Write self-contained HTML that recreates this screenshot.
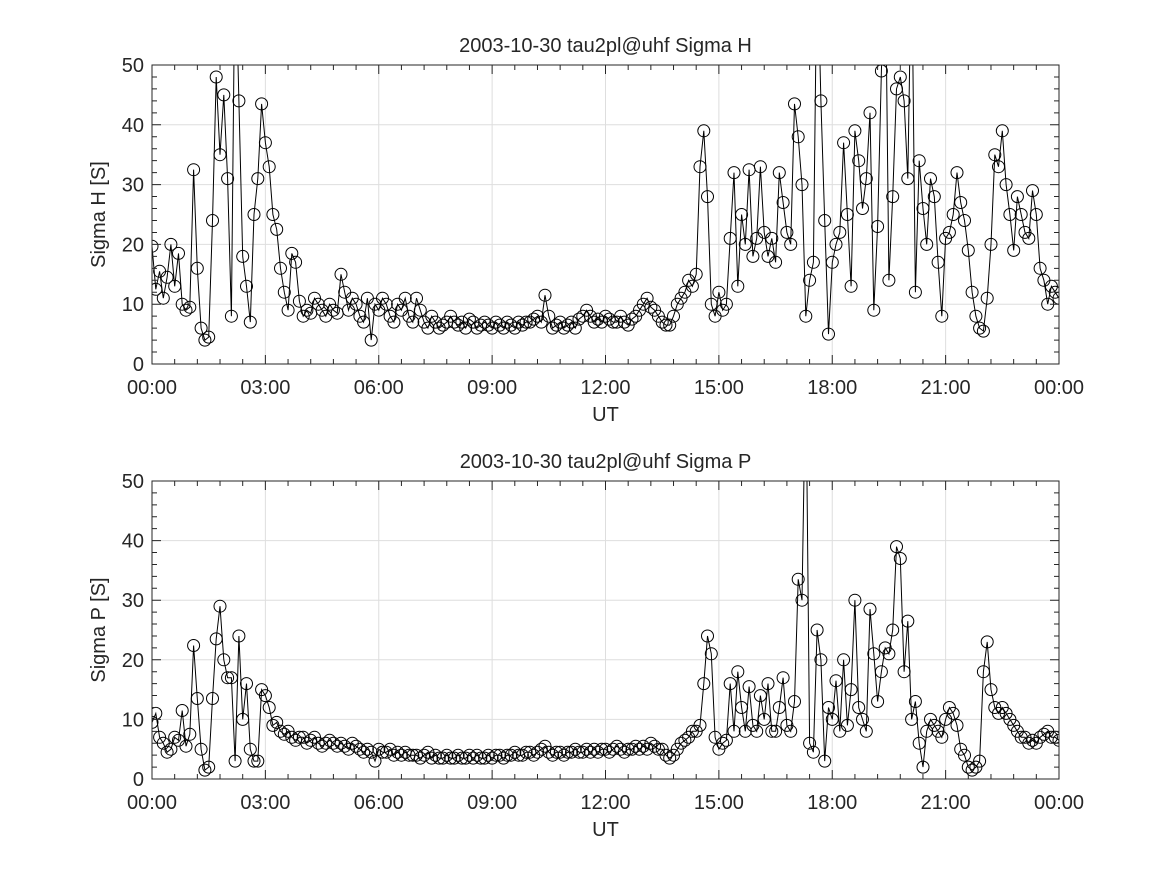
<!DOCTYPE html>
<html><head><meta charset="utf-8"><style>
body{margin:0;background:#fff;}
svg text{font-family:"Liberation Sans","DejaVu Sans",sans-serif;fill:#262626;}
</style></head><body>
<svg id="fig" width="1167" height="875" xmlns="http://www.w3.org/2000/svg"></svg>
<script>
// Sigma H values, one per 0.1 h from 00:00 to 24:00
const sigmaH = [
19.7,12.5,15.5,11,14.5,20,13,18.5,10,9,
9.5,32.5,16,6,4,4.5,24,48,35,45,
31,8,70,44,18,13,7,25,31,43.5,
37,33,25,22.5,16,12,9,18.5,17,10.5,
8,9,8.5,11,10,9,8,10,9,8.5,
15,12,9,11,10,8,7,11,4,10,
9,11,10,8,7,10,9,11,8,7,
11,9,7,6,8,7,6,6.5,7,8,
7,6.5,7,6,7.5,7,6,6.5,7,6.5,
6,7,6.5,6,7,6.5,6,7,6.5,7,
7,7.5,8,7,11.5,8,6,6.5,7,6,
6.5,7,6,7.5,8,9,8,7,7.5,7,
8,7.5,7,7,8,7,6.5,7.5,8,9,
10,11,9.5,9,8,7,6.5,6.5,8,10,
11,12,14,13,15,33,39,28,10,8,
12,9,10,21,32,13,25,20,32.5,18,
21,33,22,18,21,17,32,27,22,20,
43.5,38,30,8,14,17,70,44,24,5,
17,20,22,37,25,13,39,34,26,31,
42,9,23,49,70,14,28,46,48,44,
31,70,12,34,26,20,31,28,17,8,
21,22,25,32,27,24,19,12,8,6,
5.5,11,20,35,33,39,30,25,19,28,
25,22,21,29,25,16,14,10,13,12,
11];
// Sigma P values, one per 0.1 h
const sigmaP = [
9.5,11,7,6,4.5,5,7,6.5,11.5,5.5,
7.5,22.4,13.5,5,1.5,2,13.5,23.5,29,20,
17,17,3,24,10,16,5,3,3,15,
14,12,9,9.5,8,7.5,8,7,6.5,7,
7,6,6.5,7,6,5.5,6,6.5,6,5.5,
6,5.5,5,6,5.5,5,4.5,5,4.5,3,
5,4.5,4.5,5,4,4.5,4,4.5,4,4,
4,3.5,4,4.5,3.5,4,3.5,3.5,4,3.5,
3.5,4,3.5,3.5,4,3.5,4,3.5,3.5,4,
3.5,4,4,3.5,4,4,4.5,4,4,4.5,
4.5,4,4.5,5,5.5,4.5,4,4.5,4.5,4,
4.5,4.5,5,4.5,4.5,5,4.5,5,4.5,5,
5,4.5,5,5.5,5,4.5,5,5,5.5,5,
5.5,5,6,5.5,5,5,4,3.5,4,5,
6,6.5,7,8,8,9,16,24,21,7,
5,6,6.5,16,8,18,12,8,15.5,9,
8,14,10,16,8,8,12,17,9,8,
13,33.5,30,70,6,4.5,25,20,3,12,
10,16.5,8,20,9,15,30,12,10,8,
28.5,21,13,18,22,21,25,39,37,18,
26.5,10,13,6,2,8,10,9,8,7,
10,12,11,9,5,4,2,1.5,2,3,
18,23,15,12,11,12,11,10,9,8,
7,7,6,6.5,6,7,7.5,8,7,7,
6.5];
const timeStep = 0.1;
const xTickLabels = ["00:00","03:00","06:00","09:00","12:00","15:00","18:00","21:00","00:00"];
const yTickLabels = ["0","10","20","30","40","50"];
const titles = ["2003-10-30  tau2pl@uhf Sigma H","2003-10-30  tau2pl@uhf Sigma P"];
const yTitles = ["Sigma H [S]","Sigma P [S]"];

const NS="http://www.w3.org/2000/svg";
const svg=document.getElementById('fig');
function mk(tag,attrs,parent){const e=document.createElementNS(NS,tag);for(const k in attrs)e.setAttribute(k,attrs[k]);(parent||svg).appendChild(e);return e;}

const X0=152,X1=1059;
const panels=[{top:65,bot:364,data:sigmaH},{top:481,bot:779,data:sigmaP}];
panels.forEach((p,pi)=>{
  const g=mk('g',{});
  
  
  const xs=h=>X0+(X1-X0)*h/24;
  const ys=v=>p.bot-(p.bot-p.top)*v/50;
  // grid
  for(let i=1;i<8;i++){const l=mk('line',{x1:xs(i*3),x2:xs(i*3),y1:p.top,y2:p.bot,stroke:'#dedede','stroke-width':1},g);
    }
  for(let i=1;i<5;i++){const l=mk('line',{x1:X0,x2:X1,y1:ys(i*10),y2:ys(i*10),stroke:'#dedede','stroke-width':1},g);
    }
  // clip
  const cp=mk('clipPath',{id:'clip'+pi},g);mk('rect',{x:X0,y:p.top,width:X1-X0,height:p.bot-p.top},cp);
  const dg=mk('g',{'clip-path':'url(#clip'+pi+')'},g);
  
  
  let d='';
  p.data.forEach((v,i)=>{d+=(i?'L':'M')+xs(i*timeStep).toFixed(1)+','+ys(v).toFixed(1);});
  const path=mk('path',{d:d,fill:'none',stroke:'#000','stroke-width':1},dg);
  
  
  p.data.forEach((v,i)=>{
    const c=mk('circle',{cx:xs(i*timeStep).toFixed(1),cy:ys(v).toFixed(1),r:6,fill:'none',stroke:'#000','stroke-width':1},dg);
    
    
  });
  // box
  const box=mk('rect',{x:X0,y:p.top,width:X1-X0,height:p.bot-p.top,fill:'none',stroke:'#262626','stroke-width':1},g);
  
  // ticks
  let td='';
  for(let h=0;h<=24.001;h+=0.6){const x=xs(h);const L=(Math.abs(h/3-Math.round(h/3))<0.01)?9:5;
    td+=`M${x},${p.bot}v${-L}M${x},${p.top}v${L}`;}
  for(let v=0;v<=50;v+=2){const y=ys(v);const L=v%10===0?9:5;
    td+=`M${X0},${y}h${L}M${X1},${y}h${-L}`;}
  const tk=mk('path',{d:td,stroke:'#262626','stroke-width':1,fill:'none'},g);
  
  xTickLabels.forEach((s,i)=>{const t=mk('text',{x:xs(i*3),y:p.bot+30,'text-anchor':'middle','font-size':20},g);t.textContent=s;
    });
  yTickLabels.forEach((s,i)=>{const t=mk('text',{x:X0-8,y:ys(i*10)+7,'text-anchor':'end','font-size':20},g);t.textContent=s;
    });
  const xt=mk('text',{x:(X0+X1)/2,y:p.bot+57,'text-anchor':'middle','font-size':20},g);xt.textContent='UT';
  
  const yc=(p.top+p.bot)/2;
  const yt=mk('text',{x:105,y:yc,'text-anchor':'middle','font-size':20,transform:`rotate(-90 105 ${yc})`},g);yt.textContent=yTitles[pi];
  
  const tt=mk('text',{x:(X0+X1)/2,y:p.top-13,'text-anchor':'middle','font-size':20},g);tt.textContent=titles[pi];
  
});
</script>
</body></html>
